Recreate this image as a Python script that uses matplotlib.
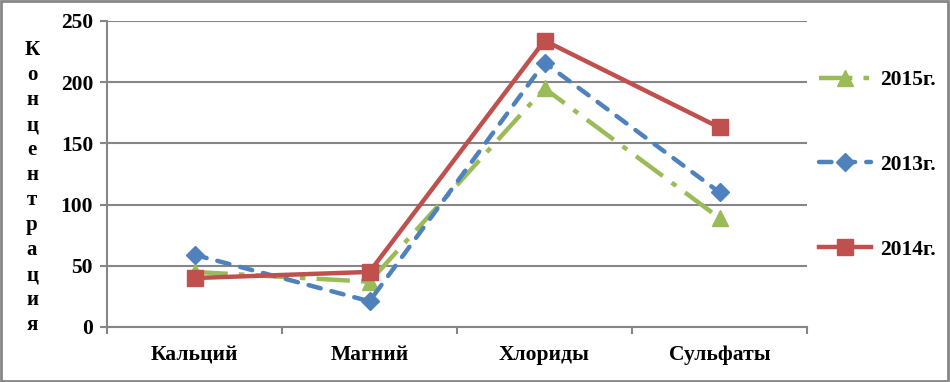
import matplotlib.pyplot as plt

plt.rcParams['font.family'] = ['Liberation Serif', 'DejaVu Serif']
plt.rcParams['font.weight'] = 'bold'
plt.rcParams['lines.scale_dashes'] = False

categories = ["Кальций", "Магний", "Хлориды", "Сульфаты"]
v2015 = [45, 37, 195, 89]
v2013 = [59, 21, 216, 110]
v2014 = [40, 45, 234, 163]
y_label = "Концентрация"

grid_col = "#868686"

fig = plt.figure(figsize=(9.5, 3.82), dpi=100)
ax = fig.add_axes([107 / 950, 55 / 382, 700 / 950, 306 / 382])

x = range(len(categories))
ax.plot(x, v2015, color="#9BBB59", lw=3.2, dashes=(24, 8, 4, 8), marker="^", ms=11,
        label="2015г.", solid_capstyle="butt", dash_capstyle="butt")
ax.plot(x, v2013, color="#4F81BD", lw=3.2, dashes=(9, 8), marker="D", ms=9,
        label="2013г.", dash_capstyle="round")
ax.plot(x, v2014, color="#C0504D", lw=3.2, marker="s", ms=11, label="2014г.")

ax.set_xlim(-0.5, 3.5)
ax.set_ylim(0, 250)
ax.set_yticks([0, 50, 100, 150, 200, 250])
ax.yaxis.grid(True, color=grid_col, lw=1.5)
ax.set_axisbelow(True)
ax.set_xticks([-0.5, 0.5, 1.5, 2.5, 3.5])
ax.set_xticklabels([])
ax.set_xticks(list(x), minor=True)
ax.set_xticklabels(categories, minor=True, fontsize=15.5, fontweight="bold")
ax.tick_params(axis="x", which="minor", length=0, pad=13)
ax.tick_params(axis="x", which="major", length=5, color=grid_col, width=1.5)
ax.tick_params(axis="y", length=5, color=grid_col, width=1.5, labelsize=15.5, pad=5)
for s in ["top", "right"]:
    ax.spines[s].set_visible(False)
for s in ["left", "bottom"]:
    ax.spines[s].set_color(grid_col)
    ax.spines[s].set_linewidth(1.5)

for i, ch in enumerate(y_label):
    fig.text(32 / 950, 1 - (50 + i * 25) / 382, ch, ha="center", va="center",
             fontsize=15, fontweight="bold")

ax.legend(loc="center left", bbox_to_anchor=(0.99, 0.53), frameon=False,
          fontsize=15.5, labelspacing=3.0, handlelength=2.4, handletextpad=0.4)

fig.patches.append(plt.Rectangle((0.001, 0.002), 0.997, 0.995, transform=fig.transFigure,
                                 fill=False, edgecolor=grid_col, lw=2))
fig.savefig("out.png", dpi=100)
